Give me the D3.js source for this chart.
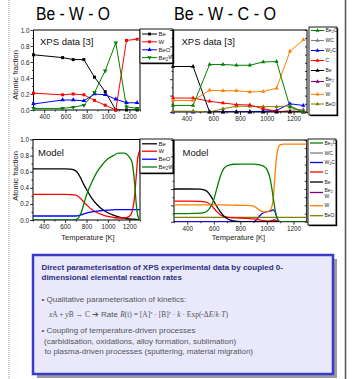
<!DOCTYPE html>
<html><head><meta charset="utf-8">
<script src="https://cdn.jsdelivr.net/npm/d3@7"></script>
<style>body{margin:0;background:#fff;} svg{display:block;font-family:"Liberation Sans",Arial,sans-serif;}</style>
</head><body><svg id="c" width="352" height="379"></svg>
<script>
// ---------- DATA ----------
const xTicksMajor = [400, 600, 800, 1000, 1200];
const xTicksMinor = [300, 500, 700, 900, 1100, 1300];
const yTicksMajor = [0, 0.2, 0.4, 0.6, 0.8, 1.0];
const yTicksMinor = [0.1, 0.3, 0.5, 0.7, 0.9];

// Be-W-O XPS data
const xpsTempL = [300, 573, 673, 773, 873, 973, 1073, 1173, 1273];
const xpsL_Be   = [0.69, 0.655, 0.63, 0.63, 0.41, 0.23, 0.0, 0.0, 0.0];
const xpsL_W    = [0.21, 0.19, 0.20, 0.19, 0.12, 0.06, 0.0, 0.87, 0.885];
const xpsL_BeO  = [0.075, 0.125, 0.125, 0.115, 0.20, 0.19, 0.135, 0.09, 0.09];
const xpsL_Be2W = [0.02, 0.02, 0.035, 0.06, 0.22, 0.49, 0.84, 0.04, 0.02];
const namesL  = ["Be", "W", "BeO", "Be_2W"];
const colorsL = ["#000000", "#ff0000", "#0000ff", "#008000"];

// Be-W-C-O XPS data
const xpsTempR = [300, 450, 573, 673, 773, 873, 973, 1073, 1173, 1273];
const xpsR_Be2C = [0.08, 0.08, 0.58, 0.58, 0.57, 0.57, 0.61, 0.615, 0.06, 0.0];
const xpsR_WC   = [0.0, 0.0, 0.0, 0.0, 0.0, 0.0, 0.0, 0.0, 0.02, 0.03];
const xpsR_W2C  = [0.0, 0.0, 0.0, 0.0, 0.0, 0.0, 0.01, 0.02, 0.10, 0.08];
const xpsR_C    = [0.17, 0.17, 0.13, 0.11, 0.09, 0.085, 0.04, 0.01, 0.0, 0.0];
const xpsR_Be   = [0.555, 0.555, 0.0, 0.0, 0.0, 0.0, 0.0, 0.0, 0.0, 0.0];
const xpsR_Be2W = [0.0, 0.0, 0.0, 0.0, 0.0, 0.0, 0.0, 0.0, 0.0, 0.0];
const xpsR_W    = [0.14, 0.14, 0.265, 0.26, 0.26, 0.245, 0.25, 0.29, 0.74, 0.88];
const xpsR_BeO  = [0.01, 0.01, 0.0, 0.04, 0.07, 0.07, 0.065, 0.065, 0.075, 0.0];
const namesR  = ["Be_2C", "WC", "W_2C", "C", "Be", "Be_2|W", "W", "BeO"];
const colorsR = ["#008000", "#808080", "#0000ff", "#ff0000", "#000000", "#800080", "#ff8000", "#808000"];

// Be-W-O model
const modTempL = [300,400,500,600,650,700,725,750,775,800,850,900,950,1000,1050,1100,1150,1200,1225,1250,1265,1280,1300];
const modL_Be   = [0.635,0.635,0.635,0.635,0.632,0.61,0.57,0.51,0.44,0.38,0.27,0.19,0.13,0.09,0.06,0.04,0.025,0.015,0.012,0.01,0.008,0.005,0.0];
const modL_W    = [0.318,0.318,0.318,0.318,0.316,0.31,0.29,0.26,0.22,0.19,0.13,0.09,0.065,0.045,0.032,0.025,0.025,0.045,0.10,0.30,0.55,0.78,0.87];
const modL_BeO  = [0.05,0.05,0.05,0.05,0.05,0.05,0.055,0.065,0.075,0.085,0.10,0.11,0.118,0.123,0.127,0.13,0.13,0.13,0.13,0.13,0.13,0.13,0.13];
const modL_Be2W = [0,0,0,0,0,0.005,0.03,0.09,0.20,0.31,0.47,0.60,0.69,0.76,0.80,0.83,0.83,0.78,0.72,0.45,0.20,0.05,0.0];

// Be-W-C-O model
const modTempR = [300,400,500,525,550,575,600,625,650,675,700,725,750,800,850,900,925,950,975,1000,1025,1040,1050,1060,1070,1080,1090,1100,1125,1150,1200,1250,1300];
const modR_Be2C = [0.10,0.10,0.105,0.11,0.13,0.18,0.27,0.42,0.56,0.65,0.685,0.698,0.703,0.705,0.705,0.705,0.70,0.695,0.68,0.64,0.52,0.38,0.27,0.16,0.08,0.03,0.01,0,0,0,0,0,0];
const modR_WC   = [0,0,0,0,0,0,0,0,0,0,0,0,0,0,0,0,0,0,0,0,0,0.005,0.01,0.01,0.005,0,0,0,0,0,0,0,0];
const modR_W2C  = [0,0,0,0,0,0,0,0,0,0,0,0,0,0,0,0,0.03,0.08,0.11,0.122,0.13,0.14,0.145,0.13,0.08,0.03,0.005,0,0,0,0,0,0];
const modR_C    = [0.253,0.253,0.25,0.245,0.235,0.21,0.165,0.12,0.085,0.065,0.055,0.05,0.048,0.045,0.04,0.035,0.03,0.02,0.012,0.008,0.01,0.015,0.02,0.02,0.015,0.005,0,0,0,0,0,0,0];
const modR_Be   = [0.40,0.40,0.398,0.39,0.37,0.32,0.25,0.18,0.12,0.07,0.04,0.02,0.01,0,0,0,0,0,0,0,0,0,0,0,0,0,0,0,0,0,0,0,0];
const modR_Be2W = [0,0,0,0,0,0,0,0,0,0,0,0,0,0,0,0,0,0,0,0,0,0.01,0.02,0.02,0.01,0,0,0,0,0,0,0,0];
const modR_W    = [0.205,0.205,0.205,0.205,0.205,0.205,0.205,0.205,0.205,0.205,0.204,0.203,0.202,0.20,0.20,0.19,0.165,0.135,0.12,0.12,0.14,0.20,0.32,0.55,0.75,0.87,0.92,0.94,0.95,0.95,0.95,0.95,0.95];
const modR_BeO  = modTempR.map(() => 0.054);

// ---------- DRAWING ----------
const svg = d3.select("#c");

// slide decorations
svg.append("line").attr("x1",9).attr("x2",9).attr("y1",0).attr("y2",379)
  .attr("stroke","#9a9a9a").attr("stroke-width",1).attr("stroke-dasharray","1,1");
svg.append("line").attr("x1",345.5).attr("x2",345.5).attr("y1",0).attr("y2",379)
  .attr("stroke","#555").attr("stroke-width",1.5);

svg.append("text").attr("x",36).attr("y",20).attr("font-size",17.5).attr("textLength",74)
  .attr("lengthAdjust","spacingAndGlyphs").text("Be - W - O");
svg.append("text").attr("x",174).attr("y",20).attr("font-size",17.5).attr("textLength",102)
  .attr("lengthAdjust","spacingAndGlyphs").text("Be - W - C - O");

function addName(textSel, name) {
  const parts = name.split("_");
  textSel.append("tspan").text(parts[0]);
  for (let i = 1; i < parts.length; i++) {
    textSel.append("tspan").attr("font-size","0.75em").attr("dy","0.3em").text(parts[i][0]);
    textSel.append("tspan").attr("dy","-0.3em").text(parts[i].slice(1));
  }
}

function panel(p) {
  const x = d3.scaleLinear().domain([300,1300]).range([p.x0,p.x1]);
  const y = d3.scaleLinear().domain([0,1]).range([p.y1,p.y0]);
  const g = svg.append("g");
  const fmt = p.yLabels ? d3.format(".1f") : () => "";
  const styleAxis = s => { s.select(".domain").remove(); s.selectAll("text").attr("font-size",6.3).attr("fill","#222"); s.selectAll("line").attr("stroke","#000").attr("stroke-width",0.8); };
  g.append("g").attr("transform",`translate(0,${p.y1})`)
    .call(d3.axisBottom(x).tickValues(xTicksMajor).tickSize(3).tickPadding(1.5).tickFormat(d3.format("d"))).call(styleAxis);
  g.append("g").attr("transform",`translate(0,${p.y1})`)
    .call(d3.axisBottom(x).tickValues(xTicksMinor).tickSize(1.5).tickFormat("")).call(styleAxis);
  g.append("g").attr("transform",`translate(${p.x0},0)`)
    .call(d3.axisLeft(y).tickValues(yTicksMajor).tickSize(3).tickPadding(1).tickFormat(fmt)).call(styleAxis);
  g.append("g").attr("transform",`translate(${p.x0},0)`)
    .call(d3.axisLeft(y).tickValues(yTicksMinor).tickSize(1.5).tickFormat("")).call(styleAxis);
  if (p.rightTicks) {
    g.append("g").attr("transform",`translate(${p.x1},0)`)
      .call(d3.axisLeft(y).tickValues(yTicksMajor.concat(yTicksMinor)).tickSize(2).tickFormat("")).call(styleAxis);
  }
  g.append("rect").attr("x",p.x0).attr("y",p.y0).attr("width",p.x1-p.x0).attr("height",p.y1-p.y0)
    .attr("fill","none").attr("stroke","#000").attr("stroke-width",1);
  const clipId = "clip" + Math.round(p.x0) + Math.round(p.y0);
  svg.append("clipPath").attr("id",clipId).append("rect")
    .attr("x",p.x0).attr("y",p.y0-2).attr("width",p.x1-p.x0).attr("height",p.y1-p.y0+2);
  const plot = g.append("g").attr("clip-path",`url(#${clipId})`);
  return {x, y, g, plot};
}

function series(P, temps, vals, color, opts) {
  const pts = temps.map((t,i) => [t, vals[i]]);
  const line = d3.line().x(d => P.x(d[0])).y(d => P.y(d[1]));
  if (opts.smooth) line.curve(d3.curveMonotoneX);
  P.plot.append("path").attr("d", line(pts)).attr("fill","none").attr("stroke",color)
    .attr("stroke-width", opts.width || 1);
  if (opts.symbol) {
    P.g.selectAll(null).data(pts).enter().append("path")
      .attr("d", d3.symbol().type(opts.symbol).size(opts.size || 9))
      .attr("transform", d => `translate(${P.x(d[0])},${P.y(d[1])})` + (opts.down ? " rotate(180)" : ""))
      .attr("fill", color);
  }
}

function legend(box, names, colors, ys, opts) {
  const g = svg.append("g");
  g.append("rect").attr("x",box[0]+1.2).attr("y",box[2]+1.2).attr("width",box[1]-box[0]).attr("height",box[3]-box[2]).attr("fill","#000");
  g.append("rect").attr("x",box[0]).attr("y",box[2]).attr("width",box[1]-box[0]).attr("height",box[3]-box[2])
    .attr("fill","#fff").attr("stroke","#000").attr("stroke-width",0.9);
  names.forEach((n,i) => {
    const yy = ys[i];
    g.append("line").attr("x1",opts.lx0).attr("x2",opts.lx1).attr("y1",yy).attr("y2",yy)
      .attr("stroke",colors[i]).attr("stroke-width",opts.lw || 1);
    if (opts.symbols) {
      const s = opts.symbols[i];
      g.append("path").attr("d", d3.symbol().type(s.type).size(opts.msize || 8))
        .attr("transform", `translate(${(opts.lx0+opts.lx1)/2},${yy})` + (s.down ? " rotate(180)" : ""))
        .attr("fill", colors[i]);
    }
    const lines = n.split("|");
    lines.forEach((ln, k) => {
      const off = lines.length > 1 ? (k === 0 ? -2.2 : 3.8) : 0;
      const t = g.append("text").attr("x",opts.tx).attr("y",yy + off).attr("dy","0.35em")
        .attr("font-size",opts.fs).attr("fill","#222");
      addName(t, ln);
    });
  });
}

// ----- Top-left: Be-W-O XPS -----
const TL = panel({x0:33.5, x1:140, y0:30, y1:110, yLabels:true});
const symL = [{type:d3.symbolSquare},{type:d3.symbolSquare},{type:d3.symbolTriangle},{type:d3.symbolTriangle,down:true}];
[xpsL_Be, xpsL_W, xpsL_BeO, xpsL_Be2W].forEach((v,i) =>
  series(TL, xpsTempL, v, colorsL[i], {symbol:symL[i].type, down:symL[i].down, size:9}));
TL.g.append("text").attr("x",40).attr("y",44.5).attr("font-size",9.5).attr("fill","#111").text("XPS data [3]");
svg.append("text").attr("transform","translate(17.5,75) rotate(-90)").attr("text-anchor","middle")
  .attr("font-size",7.5).attr("fill","#222").text("Atomic fraction");
legend([140,173,29,63], namesL, colorsL, [34,41.8,49.8,57.6], {lx0:142, lx1:157, tx:158.5, fs:6, symbols:symL, msize:8});

// ----- Top-right: Be-W-C-O XPS -----
const TR = panel({x0:173, x1:307, y0:30, y1:112, yLabels:false, rightTicks:true});
const xpsR = [xpsR_Be2C, xpsR_WC, xpsR_W2C, xpsR_C, xpsR_Be, xpsR_Be2W, xpsR_W, xpsR_BeO];
const drawOrder = [1,5,2,7,3,4,6,0];
drawOrder.forEach(i => series(TR, xpsTempR, xpsR[i], colorsR[i], {symbol:d3.symbolTriangle, size:8}));
TR.g.append("text").attr("x",181.5).attr("y",44.5).attr("font-size",9.5).attr("fill","#111").text("XPS data [3]");
const symR = colorsR.map(() => ({type:d3.symbolTriangle}));
legend([309,337,27,115], namesR, colorsR, [30.5,40.5,50.5,60.5,70.5,81.5,94.3,104], {lx0:311, lx1:324, tx:325.5, fs:5, symbols:symR, msize:7});

// ----- Bottom-left: Be-W-O model -----
const BL = panel({x0:33, x1:140, y0:139.5, y1:220, yLabels:true});
[modL_Be, modL_W, modL_BeO, modL_Be2W].forEach((v,i) =>
  series(BL, modTempL, v, colorsL[i], {smooth:true, width:1.3}));
BL.g.append("text").attr("x",38).attr("y",156).attr("font-size",9.5).attr("fill","#111").text("Model");
svg.append("text").attr("transform","translate(17.5,176) rotate(-90)").attr("text-anchor","middle")
  .attr("font-size",7.5).attr("fill","#222").text("Atomic fraction");
svg.append("text").attr("x",88).attr("y",239.5).attr("text-anchor","middle").attr("font-size",7.5).attr("fill","#222").text("Temperature [K]");
legend([140,173,139,173], namesL, colorsL, [143.8,151.2,159.2,167], {lx0:142, lx1:157, tx:158.5, fs:6, lw:1.3});

// ----- Bottom-right: Be-W-C-O model -----
const BR = panel({x0:174, x1:306.7, y0:140, y1:221.7, yLabels:false, rightTicks:true});
const modR = [modR_Be2C, modR_WC, modR_W2C, modR_C, modR_Be, modR_Be2W, modR_W, modR_BeO];
drawOrder.forEach(i => series(BR, modTempR, modR[i], colorsR[i], {smooth:true, width:1.3}));
BR.g.append("text").attr("x",182.5).attr("y",156).attr("font-size",9.5).attr("fill","#111").text("Model");
svg.append("text").attr("x",238.5).attr("y",240).attr("text-anchor","middle").attr("font-size",7.5).attr("fill","#222").text("Temperature [K]");
legend([308,336,139,225], namesR, colorsR, [143,153,162.5,172,182,192.5,205.7,215.7], {lx0:310, lx1:323, tx:324.5, fs:5, lw:1.3});

// ----- Text box -----
svg.append("rect").attr("x",37).attr("y",259).attr("width",300).attr("height",119).attr("fill","#9c9c9c");
svg.append("rect").attr("x",33).attr("y",255).attr("width",300).attr("height",119)
  .attr("fill","#e9e9fb").attr("stroke","#3a3acb").attr("stroke-width",2.5);
const tb = svg.append("g").attr("font-size",8);
tb.append("text").attr("x",41.5).attr("y",269.5).attr("font-weight","bold").attr("fill","#2e2e7e")
  .text("Direct parameterisation of XPS experimental data by coupled 0-");
tb.append("text").attr("x",41.5).attr("y",280).attr("font-weight","bold").attr("fill","#2e2e7e")
  .text("dimensional elemental reaction rates");
tb.append("text").attr("x",41.5).attr("y",302).attr("fill","#555").text("• Qualitative parameterisation of kinetics:");
const f = tb.append("text").attr("x",49).attr("y",317).attr("fill","#555").attr("font-family","'Liberation Serif',serif").attr("font-size",7.5);
f.append("tspan").attr("font-style","italic").text("x");
f.append("tspan").text("A + ");
f.append("tspan").attr("font-style","italic").text("y");
f.append("tspan").text("B → C ");
f.append("tspan").attr("font-family","'Liberation Sans',Arial,sans-serif").attr("font-size",8).text("➔ Rate  ");
f.append("tspan").attr("font-style","italic").text("R");
f.append("tspan").text("(t) = [A]");
f.append("tspan").attr("font-size",5).attr("dy",-3).attr("font-style","italic").text("x");
f.append("tspan").attr("dy",3).text(" · [B]");
f.append("tspan").attr("font-size",5).attr("dy",-3).attr("font-style","italic").text("y");
f.append("tspan").attr("dy",3).text(" · ");
f.append("tspan").attr("font-style","italic").text("k");
f.append("tspan").text(" · Exp(-Δ");
f.append("tspan").attr("font-style","italic").text("E");
f.append("tspan").text("/");
f.append("tspan").attr("font-style","italic").text("k");
f.append("tspan").text("·");
f.append("tspan").attr("font-style","italic").text("T");
f.append("tspan").text(")");
tb.append("text").attr("x",41.5).attr("y",333).attr("fill","#555").text("• Coupling of temperature-driven processes");
tb.append("text").attr("x",44).attr("y",343.5).attr("fill","#555").text("(carbidisation, oxidations, alloy formation, sublimation)");
tb.append("text").attr("x",44.5).attr("y",354).attr("fill","#555").text("to plasma-driven processes (sputtering, material migration)");
</script></body></html>
